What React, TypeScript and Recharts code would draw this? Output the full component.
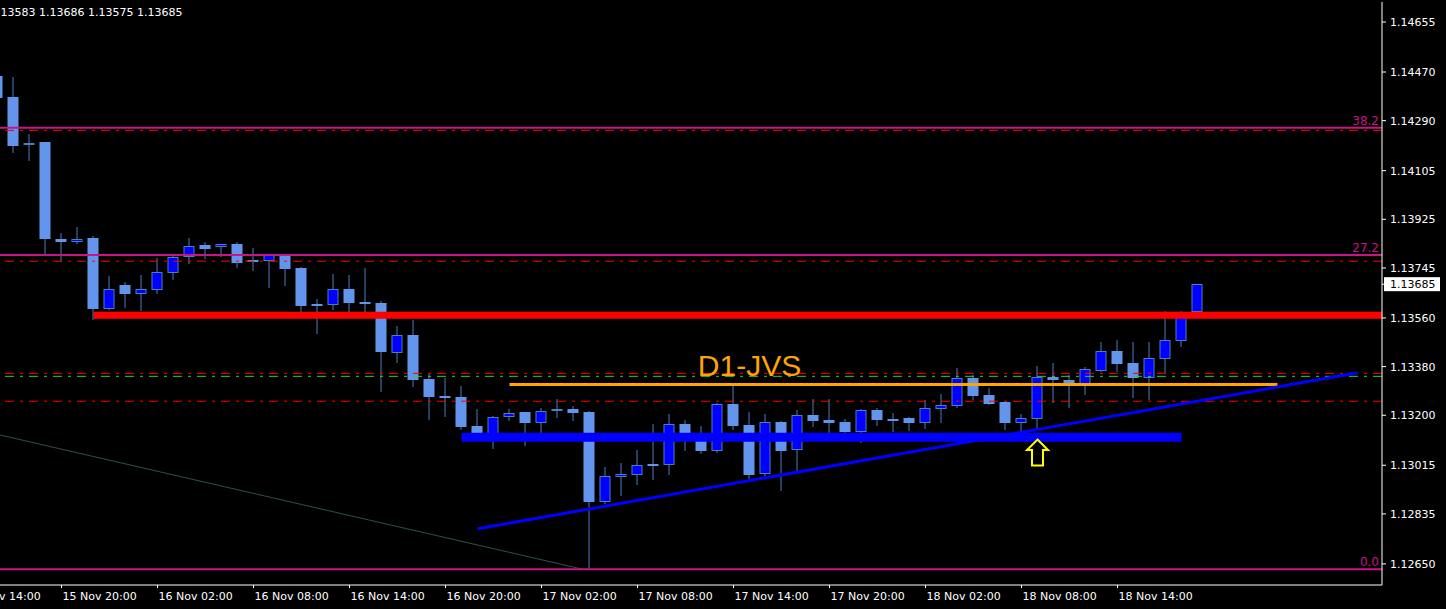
import React from 'react';
import { ComposedChart, Bar, XAxis, YAxis, ReferenceLine, ReferenceDot } from 'recharts';

// hourly candles, first one is 15 Nov 16:00 (index -1), last one 18 Nov 19:00 (index 74)
const opens = [
  1.14455, 1.14378, 1.14199, 1.14211, 1.13852, 1.13842, 1.13856, 1.13594, 1.13682, 1.13650,
  1.13665, 1.13728, 1.13785, 1.13830, 1.13822, 1.13834, 1.13774, 1.13772, 1.13794, 1.13745,
  1.13612, 1.13609, 1.13667, 1.13619, 1.13616, 1.13432, 1.13497, 1.13334, 1.13272, 1.13268,
  1.13161, 1.13117, 1.13193, 1.13212, 1.13173, 1.13215, 1.13223, 1.13212, 1.12879, 1.12973,
  1.12980, 1.13020, 1.13017, 1.13168, 1.13120, 1.13069, 1.13242, 1.13164, 1.12984, 1.13175,
  1.13071, 1.13201, 1.13183, 1.13175, 1.13139, 1.13220, 1.13186, 1.13190, 1.13173, 1.13225,
  1.13236, 1.13338, 1.13275, 1.13249, 1.13173, 1.13188, 1.13342, 1.13331, 1.13313, 1.13365,
  1.13438, 1.13394, 1.13338, 1.13408, 1.13476, 1.13583,
];
const highs = [
  1.14463, 1.14452, 1.14241, 1.14211, 1.13874, 1.13897, 1.13863, 1.13715, 1.13693, 1.13719,
  1.13782, 1.13789, 1.13856, 1.13841, 1.13834, 1.13841, 1.13819, 1.13797, 1.13797, 1.13749,
  1.13630, 1.13723, 1.13719, 1.13745, 1.13623, 1.13530, 1.13553, 1.13353, 1.13338, 1.13308,
  1.13223, 1.13198, 1.13223, 1.13212, 1.13227, 1.13260, 1.13235, 1.13216, 1.13009, 1.13024,
  1.13072, 1.13168, 1.13205, 1.13183, 1.13161, 1.13246, 1.13308, 1.13212, 1.13205, 1.13179,
  1.13220, 1.13260, 1.13260, 1.13186, 1.13223, 1.13228, 1.13209, 1.13194, 1.13257, 1.13279,
  1.13375, 1.13349, 1.13301, 1.13253, 1.13205, 1.13383, 1.13394, 1.13349, 1.13379, 1.13471,
  1.13479, 1.13471, 1.13471, 1.13586, 1.13586, 1.13686,
];
const lows = [
  1.14370, 1.14175, 1.14146, 1.13797, 1.13771, 1.13839, 1.13557, 1.13593, 1.13601, 1.13590,
  1.13654, 1.13705, 1.13765, 1.13783, 1.13789, 1.13750, 1.13739, 1.13676, 1.13683, 1.13571,
  1.13505, 1.13593, 1.13578, 1.13571, 1.13290, 1.13397, 1.13308, 1.13186, 1.13198, 1.13149,
  1.13109, 1.13079, 1.13183, 1.13090, 1.13127, 1.13194, 1.13183, 1.12632, 1.12876, 1.12905,
  1.12946, 1.12964, 1.12984, 1.13072, 1.13061, 1.13064, 1.13150, 1.12968, 1.12973, 1.12924,
  1.12995, 1.13162, 1.13132, 1.13113, 1.13102, 1.13164, 1.13143, 1.13147, 1.13154, 1.13176,
  1.13232, 1.13260, 1.13240, 1.13149, 1.13139, 1.13150, 1.13249, 1.13231, 1.13279, 1.13364,
  1.13364, 1.13268, 1.13260, 1.13357, 1.13456, 1.13575,
];
const closes = [
  1.14374, 1.14197, 1.14206, 1.13852, 1.13842, 1.13852, 1.13594, 1.13666, 1.13650, 1.13666,
  1.13729, 1.13786, 1.13825, 1.13816, 1.13833, 1.13765, 1.13768, 1.13794, 1.13741, 1.13604,
  1.13606, 1.13667, 1.13616, 1.13612, 1.13434, 1.13497, 1.13331, 1.13268, 1.13265, 1.13157,
  1.13116, 1.13194, 1.13207, 1.13172, 1.13216, 1.13223, 1.13209, 1.12879, 1.12976, 1.12983,
  1.13016, 1.13014, 1.13168, 1.13116, 1.13068, 1.13242, 1.13162, 1.12979, 1.13175, 1.13069,
  1.13201, 1.13180, 1.13173, 1.13139, 1.13220, 1.13183, 1.13180, 1.13173, 1.13227, 1.13238,
  1.13338, 1.13272, 1.13243, 1.13172, 1.13190, 1.13342, 1.13331, 1.13320, 1.13371, 1.13438,
  1.13390, 1.13338, 1.13412, 1.13479, 1.13582, 1.13685,
];

const xTickIdx = [-3, 3, 9, 15, 21, 27, 33, 39, 45, 51, 57, 63, 69];
const xTickLabels = [
  '15 Nov 14:00', '15 Nov 20:00', '16 Nov 02:00', '16 Nov 08:00', '16 Nov 14:00', '16 Nov 20:00',
  '17 Nov 02:00', '17 Nov 08:00', '17 Nov 14:00', '17 Nov 20:00', '18 Nov 02:00', '18 Nov 08:00',
  '18 Nov 14:00',
];
const priceTicks = [
  1.14655, 1.14470, 1.14290, 1.14105, 1.13925, 1.13745, 1.13560, 1.13380, 1.13200, 1.13015,
  1.12835, 1.12650,
];
const lastPrice = 1.13685;
const headerText = '1.13583 1.13686 1.13575 1.13685';

const fibLevels = [
  { label: '38.2', price: 1.14264 },
  { label: '27.2', price: 1.13793 },
  { label: '0.0', price: 1.12630 },
];
const redDashLevels = [1.14254, 1.13770, 1.13355, 1.13252];
const greenDashLevel = 1.13344;
const supportRed = { from: 5, price: 1.1357 };
const blueZone = { from: 28, to: 73, price: 1.13119 };
const orangeLevel = { from: 31, to: 79, price: 1.13314 };
const trendline = [{ x: 29, y: 1.1278 }, { x: 84, y: 1.13357 }];
const fibBase = [{ x: -0.84375, y: 1.13127 }, { x: 35.6, y: 1.1263 }];
const textNote = { x: 46, y: 1.13345, text: 'D1-JVS' };
const arrowMark = { x: 64, y: 1.13062 };

const xDomain: [number, number] = [-0.84375, 85.53125];
const yDomain: [number, number] = [1.12572, 1.14729];

const data = opens.map((o, n) => ({
  i: n - 1,
  o,
  h: highs[n],
  l: lows[n],
  c: closes[n],
  range: [lows[n], highs[n]],
}));

const FONT = 'DejaVu Sans';
const WICK = '#4a7fc0';

const Candle = (props: any) => {
  const { x, y, width, height, payload } = props;
  if (!payload) return null;
  const { o, h, l, c } = payload;
  const top = Math.min(y, y + height);
  const bottom = Math.max(y, y + height);
  const ppu = h - l > 0 ? (bottom - top) / (h - l) : 0;
  const yO = top + (h - o) * ppu;
  const yC = top + (h - c) * ppu;
  const cx = x + width / 2;
  const bTop = Math.round(Math.min(yO, yC));
  const bBot = Math.max(bTop + 2, Math.round(Math.max(yO, yC)));
  const bull = c > o;
  return (
    <g>
      <line x1={cx} x2={cx} y1={Math.round(top)} y2={Math.round(bottom) + 1} stroke={WICK} strokeWidth={1} />
      {bull ? (
        <rect x={cx - 5} y={bTop + 0.5} width={10} height={bBot - bTop - 1} fill="#0000FF" stroke={WICK} strokeWidth={1} />
      ) : (
        <rect x={cx - 5.5} y={bTop} width={11} height={bBot - bTop} fill="#6495ED" />
      )}
    </g>
  );
};

const PriceTick = (props: any) => {
  const { x, y, payload } = props;
  const v = payload.value;
  if (Math.abs(v - lastPrice) < 1e-9) {
    return (
      <g>
        <rect x={x - 6} y={y - 7} width={56} height={14} fill="#ffffff" />
        <text x={x} y={y + 4} fill="#000000" fontFamily={FONT} fontSize={11}>{v.toFixed(5)}</text>
      </g>
    );
  }
  return (
    <text x={x} y={y + 4} fill="#ffffff" fontFamily={FONT} fontSize={11}>{v.toFixed(5)}</text>
  );
};

const TimeTick = (props: any) => {
  const { x, y, payload } = props;
  const label = xTickLabels[xTickIdx.indexOf(payload.value)];
  return (
    <text x={x + 1} y={y + 12} fill="#ffffff" fontFamily={FONT} fontSize={11}>{label}</text>
  );
};

const UpArrow = (props: any) => {
  const { cx, cy } = props;
  const pts = [
    [0, -13], [10.5, -2.5], [5.5, -2.5], [5.5, 13], [-5.5, 13], [-5.5, -2.5], [-10.5, -2.5],
  ].map(([dx, dy]) => `${cx + dx},${cy + dy}`).join(' ');
  return <polygon points={pts} fill="#000000" stroke="#FFFF00" strokeWidth={2} />;
};

const NoteText = (props: any) => {
  const { cx, cy } = props;
  return (
    <text x={cx} y={cy} textAnchor="middle" fill="#FFA500" fontFamily="Liberation Sans" fontSize={30}>
      {textNote.text}
    </text>
  );
};

export default function App() {
  return (
    <div style={{ position: 'absolute', left: 0, top: 0, width: 1446, height: 609, background: '#000000', overflow: 'hidden' }}>
      <ComposedChart width={1446} height={609} data={data} margin={{ top: 2, right: 0, bottom: 0, left: 0 }}>
        <XAxis
          dataKey="i"
          type="number"
          domain={xDomain}
          allowDataOverflow
          ticks={xTickIdx}
          interval={0}
          height={24}
          axisLine={{ stroke: '#ffffff' }}
          tickLine={{ stroke: '#ffffff' }}
          tickSize={3}
          tickMargin={0}
          tick={<TimeTick />}
        />
        <XAxis
          xAxisId="top"
          orientation="top"
          type="number"
          domain={xDomain}
          allowDataOverflow
          height={0}
          tick={false}
          tickLine={false}
          axisLine={{ stroke: '#ffffff' }}
        />
        <YAxis
          orientation="right"
          type="number"
          domain={yDomain}
          allowDataOverflow
          ticks={[...priceTicks, lastPrice]}
          interval={0}
          width={64}
          axisLine={{ stroke: '#ffffff' }}
          tickLine={{ stroke: '#ffffff' }}
          tickSize={4}
          tickMargin={4}
          tick={<PriceTick />}
        />

        <ReferenceLine segment={fibBase} stroke="#2F4F4F" strokeWidth={1} ifOverflow="visible" />
        {fibLevels.map((f) => (
          <ReferenceLine
            key={f.label}
            y={f.price}
            stroke="#C71585"
            strokeWidth={2}
            label={{ value: f.label, position: 'insideBottomRight', offset: 3, fill: '#C71585', fontSize: 12, fontFamily: FONT }}
          />
        ))}
        {redDashLevels.map((p) => (
          <ReferenceLine key={p} y={p} stroke="#FF0000" strokeWidth={1} strokeDasharray="9 6 3 6" />
        ))}
        <ReferenceLine y={greenDashLevel} stroke="#32CD32" strokeWidth={1} strokeDasharray="9 6 3 6" />
        <ReferenceLine
          segment={[{ x: supportRed.from, y: supportRed.price }, { x: xDomain[1], y: supportRed.price }]}
          stroke="#FF0000"
          strokeWidth={7}
          ifOverflow="visible"
        />
        <ReferenceLine
          segment={[{ x: blueZone.from, y: blueZone.price }, { x: blueZone.to, y: blueZone.price }]}
          stroke="#0000FF"
          strokeWidth={9}
          ifOverflow="visible"
        />
        <ReferenceLine
          segment={[{ x: orangeLevel.from, y: orangeLevel.price }, { x: orangeLevel.to, y: orangeLevel.price }]}
          stroke="#FFA500"
          strokeWidth={3}
          ifOverflow="visible"
        />

        <Bar dataKey="range" barSize={11} shape={<Candle />} isAnimationActive={false} />

        <ReferenceLine segment={trendline} stroke="#0000FF" strokeWidth={3} ifOverflow="visible" />
        <ReferenceDot x={textNote.x} y={textNote.y} r={0} shape={<NoteText />} ifOverflow="visible" />
        <ReferenceDot x={arrowMark.x} y={arrowMark.y} r={0} shape={<UpArrow />} ifOverflow="visible" />
      </ComposedChart>
      <div
        style={{
          position: 'absolute',
          left: -10,
          top: 6,
          color: '#ffffff',
          fontFamily: FONT,
          fontSize: 11,
          lineHeight: '13px',
          whiteSpace: 'nowrap',
        }}
      >
        {headerText}
      </div>
    </div>
  );
}
